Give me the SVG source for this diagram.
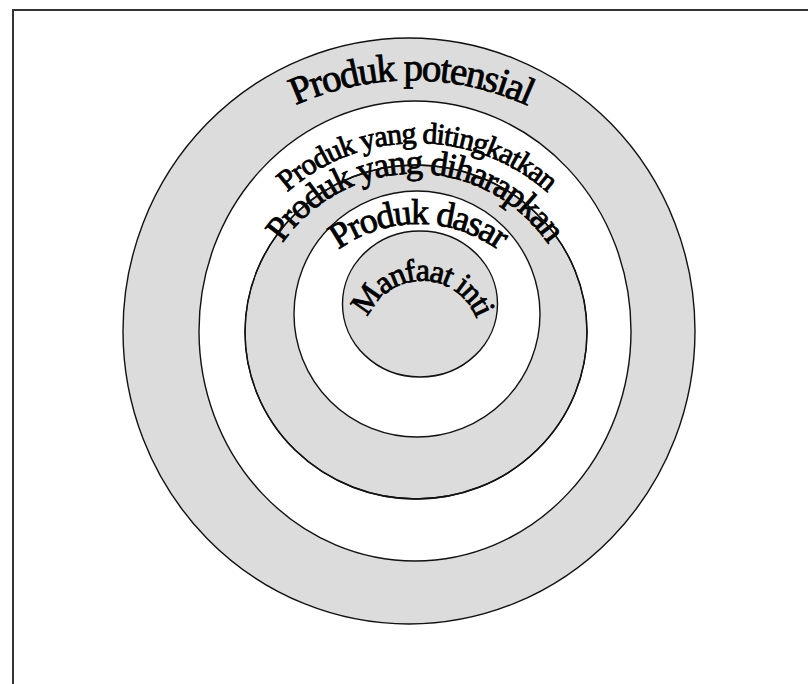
<svg xmlns="http://www.w3.org/2000/svg" xmlns:xlink="http://www.w3.org/1999/xlink" width="808" height="684" viewBox="0 0 808 684">
<style>
.gray{fill:#dcdcdc;stroke:#111;stroke-width:1.4}
.white{fill:#ffffff;stroke:#111;stroke-width:1.4}
.line{fill:none;stroke:#111;stroke-width:1.4}
.lbl{font-family:"Liberation Serif","Times New Roman",serif;fill:#000;stroke:#000;stroke-width:0.85;text-anchor:middle}
</style>
<defs>
<path id="p1" d="M224,152 A280,280 0 0 1 598,152"/>
<path id="p2" d="M227.7,288.3 A196,196 0 0 1 606.3,288.3"/>
<path id="p3" d="M256.4,307 A161,161 0 0 1 573.6,307"/>
<path id="p4" d="M300.2,292 A136,136 0 0 1 535.8,292"/>
<path id="p5" d="M364.9,349 A58,58 0 1 1 479.1,349"/>
</defs>
<rect x="13" y="10" width="820" height="700" fill="#fff" stroke="#333" stroke-width="2"/>
<g id="produk-potensial">
<ellipse class="gray" cx="409" cy="331" rx="286" ry="293"/>
<text class="lbl" font-size="39" letter-spacing="-1.6"><textPath xlink:href="#p1" href="#p1" startOffset="50%">Produk potensial</textPath></text>
</g>
<g id="produk-yang-ditingkatkan">
<ellipse class="white" cx="415" cy="331" rx="216" ry="230"/>
<text class="lbl" font-size="30" letter-spacing="-1.1"><textPath xlink:href="#p2" href="#p2" startOffset="50%">Produk yang ditingkatkan</textPath></text>
</g>
<g id="produk-yang-diharapkan">
<ellipse class="gray" cx="416" cy="332" rx="171" ry="167"/>
<text class="lbl" font-size="35" letter-spacing="-1.4"><textPath xlink:href="#p3" href="#p3" startOffset="50%">Produk yang diharapkan</textPath></text>
<ellipse class="line" cx="416" cy="332" rx="171" ry="167"/>
</g>
<g id="produk-dasar">
<ellipse class="white" cx="417" cy="314" rx="123" ry="123"/>
<text class="lbl" font-size="36" letter-spacing="-1.6"><textPath xlink:href="#p4" href="#p4" startOffset="50%">Produk dasar</textPath></text>
</g>
<g id="manfaat-inti">
<ellipse class="gray" cx="420" cy="304" rx="77.5" ry="73"/>
<text class="lbl" font-size="32" letter-spacing="-1.6"><textPath xlink:href="#p5" href="#p5" startOffset="50%">Manfaat inti</textPath></text>
</g>
<g id="connectors"/>
</svg>
